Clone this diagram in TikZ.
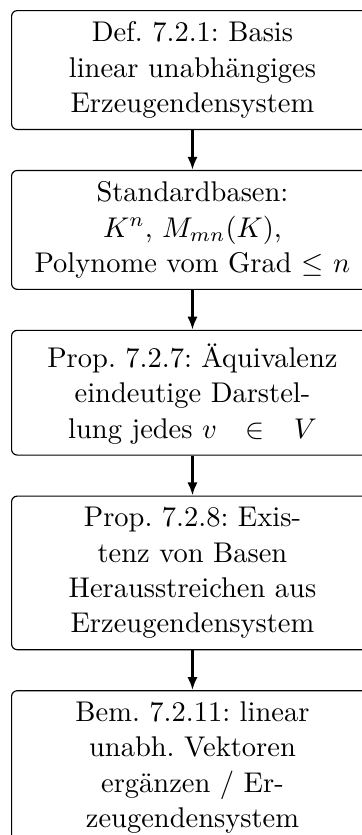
\documentclass[tikz,border=0pt]{standalone}
\usepackage{tikz}
\usetikzlibrary{positioning,arrows.meta}
\frenchspacing

\begin{document}
\begin{tikzpicture}[
		node distance=14pt,
		box/.style={draw, rounded corners=2pt, align=center, text width=120.3pt, inner xsep=3.33pt,
			inner ysep=3.9pt, font=\fontsize{10}{12.4}\selectfont},
		pfeil/.style={line width=0.9pt, -{Latex[length=4.6pt,width=3.6pt]}}
	]
		%%%%% START %%%%%
		
		\useasboundingbox (-3.86pt, 3.51pt) rectangle (123.14pt, -289.49pt);
		
		\node[box, anchor=north west] (def) at (0, 0) {Def. 7.2.1: Basis\\ linear unabhängiges\\ Erzeugendensystem};
		\node[box, below=of def] (std) {Standardbasen:\\ $K^n$, $M_{mn}(K)$,\\ Polynome vom Grad $\le n$};
		\node[box, below=of std] (aeq) {\rule{0pt}{9.1pt}Prop. 7.2.7: Äquivalenz\\ eindeutige Darstel-\\lung jedes $v \;\in\; V$};
		\node[box, below=of aeq] (ex) {Prop. 7.2.8: Exis-\\tenz von Basen\\ Herausstreichen aus\\ Erzeugendensystem};
		\node[box, below=of ex] (erg) {Bem. 7.2.11: linear\\ unabh. Vektoren\\ ergänzen / Er-\\zeugendensystem};
		
		\draw[pfeil] (def) -- (std);
		\draw[pfeil] (std) -- (aeq);
		\draw[pfeil] (aeq) -- (ex);
		\draw[pfeil] (ex) -- (erg);
		
		%%%%% END %%%%%
	\end{tikzpicture}
\end{document}
